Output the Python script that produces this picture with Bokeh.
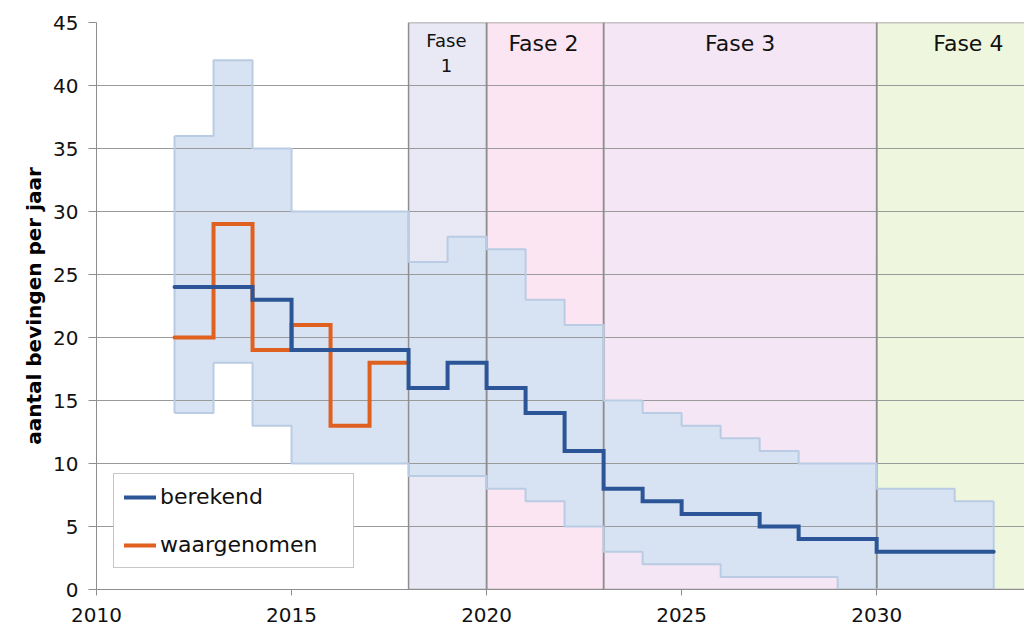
from bokeh.plotting import figure
from bokeh.models import Range1d, Legend, LegendItem, FixedTicker
from bokeh.core.properties import value
from bokeh.embed import file_html
from bokeh.resources import INLINE
import numpy as np

years = list(range(2012, 2033))
berekend = [24, 24, 23, 19, 19, 19, 16, 18, 16, 14, 11, 8, 7, 6, 6, 5, 4, 4, 3, 3, 3]
upper = [36, 42, 35, 30, 30, 30, 26, 28, 27, 23, 21, 15, 14, 13, 12, 11, 10, 10, 8, 8, 7]
lower = [14, 18, 13, 10, 10, 10, 9, 9, 8, 7, 5, 3, 2, 2, 1, 1, 1, 0, 0, 0, 0]
obs_years = list(range(2012, 2018))
waargenomen = [20, 29, 19, 21, 13, 18]

phase_left = [2018, 2020, 2023, 2030]
phase_right = [2020, 2023, 2030, 2035]
phase_colors = ["#e9e9f5", "#fce5f2", "#f4e6f5", "#eef7de"]
phase_labels = ["Fase\n1", "Fase 2", "Fase 3", "Fase 4"]
phase_label_x = [2018.97, 2021.46, 2026.5, 2032.35]
phase_label_size = ["18px", "22px", "22px", "22px"]

FONT = "DejaVu Sans"

p = figure(width=1024, height=639, output_backend="svg", toolbar_location=None,
           x_range=Range1d(2010, 2033.79), y_range=Range1d(0, 45),
           min_border_left=96, min_border_right=0, min_border_top=22, min_border_bottom=50)
p.outline_line_color = None
p.background_fill_color = "white"
p.border_fill_color = "white"

# phases
ph = p.quad(left=phase_left, right=phase_right, bottom=0, top=45,
            fill_color=phase_colors, line_color=None)
ph.level = "image"

# band
def step_xy(xs, ys):
    edges = list(xs) + [xs[-1] + 1]
    sx = np.repeat(edges, 2)[1:-1]
    sy = np.repeat(ys, 2)
    return sx, sy

bx, bu = step_xy(years, upper)
_, bl = step_xy(years, lower)
band = p.varea(x=bx, y1=bl, y2=bu, fill_color="#d7e3f2")
band.level = "image"

# phase borders
p.quad(left=phase_left, right=phase_right, bottom=0, top=45,
       fill_color=None, line_color="#8e8e8e", line_width=1.5)

# band outlines
p.line(bx, bu, line_color="#b9cce4", line_width=2)
p.line(bx, bl, line_color="#b9cce4", line_width=2)
p.line([bx[0], bx[0]], [bl[0], bu[0]], line_color="#b9cce4", line_width=2)
p.line([bx[-1], bx[-1]], [bl[-1], bu[-1]], line_color="#b9cce4", line_width=2)

# lines
ox, oy = step_xy(obs_years, waargenomen)
cx, cy = step_xy(years, berekend)
r_obs = p.line(ox, oy, line_color="#e0601f", line_width=4, line_cap="round", line_join="miter")
r_calc = p.line(cx, cy, line_color="#2b5597", line_width=4, line_cap="round", line_join="miter")

# phase labels
for lab, x, s in zip(phase_labels, phase_label_x, phase_label_size):
    yv = 43.3 if "\n" not in lab else 42.6
    p.text(x=[x], y=[yv], text=[lab], text_font=value(FONT), text_font_size=s,
           text_align="center", text_baseline="middle", text_color="#111111",
           text_line_height=1.2)

# axes
p.xaxis.ticker = FixedTicker(ticks=[2010, 2015, 2020, 2025, 2030])
p.yaxis.ticker = FixedTicker(ticks=list(range(0, 46, 5)))
for ax in (p.xaxis[0], p.yaxis[0]):
    ax.axis_line_color = "#8e8e8e"
    ax.major_tick_line_color = "#8e8e8e"
    ax.minor_tick_line_color = None
    ax.major_tick_in = 0
    ax.major_label_text_font = FONT
    ax.major_label_text_font_size = "20px"
    ax.major_label_text_color = "#111111"
p.xaxis.major_tick_out = 6
p.yaxis.major_tick_out = 8
p.xaxis.major_label_standoff = 12
p.yaxis.major_label_standoff = 10
p.yaxis.axis_label = "aantal bevingen per jaar"
p.yaxis.axis_label_text_font = FONT
p.yaxis.axis_label_text_font_style = "bold"
p.yaxis.axis_label_text_font_size = "20px"
p.yaxis.axis_label_text_color = "#000000"
p.yaxis.axis_label_standoff = 4

p.xgrid.grid_line_color = None
p.ygrid.grid_line_color = "#9a9a9a"
p.ygrid.grid_line_width = 1

legend = Legend(items=[LegendItem(label="berekend", renderers=[r_calc]),
                       LegendItem(label="waargenomen", renderers=[r_obs])],
                location=(17, 21), orientation="vertical")
legend.label_text_font = FONT
legend.label_text_font_size = "22px"
legend.label_text_color = "#111111"
legend.glyph_width = 32
legend.glyph_height = 22
legend.label_height = 22
legend.label_width = 183
legend.label_standoff = 4
legend.spacing = 23
legend.padding = 10
legend.margin = 0
legend.border_line_color = "#8e8e8e"
legend.border_line_width = 1
legend.background_fill_alpha = 1
p.add_layout(legend, "center")

open("out.html", "w").write(file_html(p, INLINE))
